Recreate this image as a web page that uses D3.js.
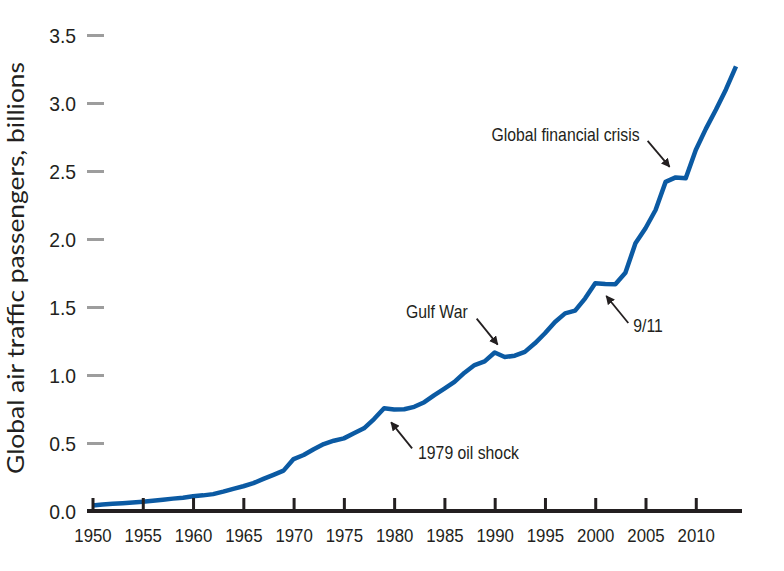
<!DOCTYPE html>
<html>
<head>
<meta charset="utf-8">
<script src="https://cdn.jsdelivr.net/npm/d3@7"></script>
<style>
  html, body { margin: 0; padding: 0; background: #fff; }
  svg { display: block; }
  .tick text { font-family: "Liberation Sans", Arial, sans-serif; fill: #231f20; }
  .note { font-family: "Liberation Sans", Arial, sans-serif; font-size: 19px; fill: #231f20; }
</style>
</head>
<body>
<svg id="chart" width="784" height="571"></svg>
<script>
// data (billions of passengers)
const years = d3.range(1950, 2015);
const passengers = [
  0.040, 0.048, 0.053, 0.057, 0.062, 0.068, 0.075, 0.083, 0.091, 0.098,
  0.108, 0.115, 0.124, 0.142, 0.163, 0.182, 0.205, 0.236, 0.266, 0.297,
  0.382, 0.412, 0.454, 0.492, 0.517, 0.534, 0.571, 0.608, 0.676, 0.755,
  0.747, 0.748, 0.766, 0.800, 0.852, 0.900, 0.950, 1.017, 1.073, 1.100,
  1.165, 1.132, 1.142, 1.170, 1.233, 1.307, 1.390, 1.453, 1.473, 1.564,
  1.674, 1.669, 1.667, 1.752, 1.968, 2.079, 2.213, 2.420, 2.453, 2.446,
  2.654, 2.810, 2.950, 3.100, 3.270
];
const xTicks = d3.range(1950, 2011, 5);
const yTicks = [0, 0.5, 1.0, 1.5, 2.0, 2.5, 3.0, 3.5];
const noteLabels = ['1979 oil shock', 'Gulf War', '9/11', 'Global financial crisis'];
const noteYears = [1979, 1990, 2001, 2007];

const svg = d3.select('#chart');
const x = d3.scaleLinear().domain([1950, 2014]).range([92.5, 736]);
const y = d3.scaleLinear().domain([0, 3.5]).range([511, 35]);

// squeeze text horizontally to fake the condensed face of the original
function condense(sel, k) {
  sel.each(function () {
    const w = this.getComputedTextLength();
    d3.select(this).attr('textLength', w * k).attr('lengthAdjust', 'spacingAndGlyphs');
  });
}

// y axis: grey dashes, no domain line
const yAxis = svg.append('g')
  .attr('transform', 'translate(104,0)')
  .call(d3.axisLeft(y).tickValues(yTicks).tickFormat(d3.format('.1f')).tickSize(17).tickPadding(11));
yAxis.select('.domain').remove();
yAxis.selectAll('.tick line').attr('stroke', '#9d9d9d').attr('stroke-width', 3);
yAxis.selectAll('.tick text').attr('font-size', 21).attr('dy', '0.38em').call(condense, 0.92);

// y title
svg.append('text')
  .attr('transform', 'translate(24,268) rotate(-90)')
  .attr('text-anchor', 'middle')
  .attr('font-family', 'Lato, "Noto Sans", sans-serif')
  .attr('font-size', 23)
  .attr('fill', '#231f20')
  .attr('textLength', 412)
  .attr('lengthAdjust', 'spacingAndGlyphs')
  .text('Global air traffic passengers, billions');

// the line
const line = d3.line().x((d, i) => x(years[i])).y(d => y(d));
svg.append('path')
  .datum(passengers)
  .attr('fill', 'none')
  .attr('stroke', '#0b5aa3')
  .attr('stroke-width', 4.5)
  .attr('stroke-linejoin', 'round')
  .attr('stroke-linecap', 'butt')
  .attr('d', line);

// x axis: thick black baseline with upward ticks
const xAxis = svg.append('g')
  .attr('transform', `translate(0,${y(0)})`)
  .call(d3.axisBottom(x).tickValues(xTicks).tickFormat(d3.format('d')).tickSize(-13));
xAxis.select('.domain').remove();
xAxis.selectAll('.tick line').attr('stroke', '#231f20').attr('stroke-width', 3);
xAxis.selectAll('.tick text').attr('font-size', 17.5).attr('y', 31).attr('dy', 0).call(condense, 0.96);
xAxis.append('line')
  .attr('x1', 87).attr('x2', 742)
  .attr('stroke', '#231f20').attr('stroke-width', 4);

// annotations
svg.append('defs').append('marker')
  .attr('id', 'head')
  .attr('viewBox', '0 0 10 10')
  .attr('refX', 9).attr('refY', 5)
  .attr('markerWidth', 5).attr('markerHeight', 5)
  .attr('markerUnits', 'strokeWidth')
  .attr('orient', 'auto')
  .append('path').attr('d', 'M0,0L10,5L0,10z').attr('fill', '#231f20');

// offsets from the data point: arrow head, arrow tail, text anchor
const noteLayout = [
  { head: [7, 14], tail: [28, 40], text: [34, 44], anchor: 'start' },
  { head: [3, -8], tail: [-18, -34], text: [-27, -41], anchor: 'end' },
  { head: [1, 12], tail: [23, 39], text: [28, 41], anchor: 'start' },
  { head: [4, -15], tail: [-18, -41], text: [-26, -48], anchor: 'end' }
];
noteLabels.forEach((label, i) => {
  const yr = noteYears[i];
  const px = x(yr), py = y(passengers[years.indexOf(yr)]);
  const L = noteLayout[i];
  svg.append('line')
    .attr('x1', px + L.tail[0]).attr('y1', py + L.tail[1])
    .attr('x2', px + L.head[0]).attr('y2', py + L.head[1])
    .attr('stroke', '#231f20').attr('stroke-width', 1.8)
    .attr('marker-end', 'url(#head)');
  svg.append('text')
    .attr('class', 'note')
    .attr('x', px + L.text[0]).attr('y', py + L.text[1])
    .attr('dy', '0.36em')
    .attr('text-anchor', L.anchor)
    .text(label)
    .call(condense, 0.83);
});
</script>
</body>
</html>
